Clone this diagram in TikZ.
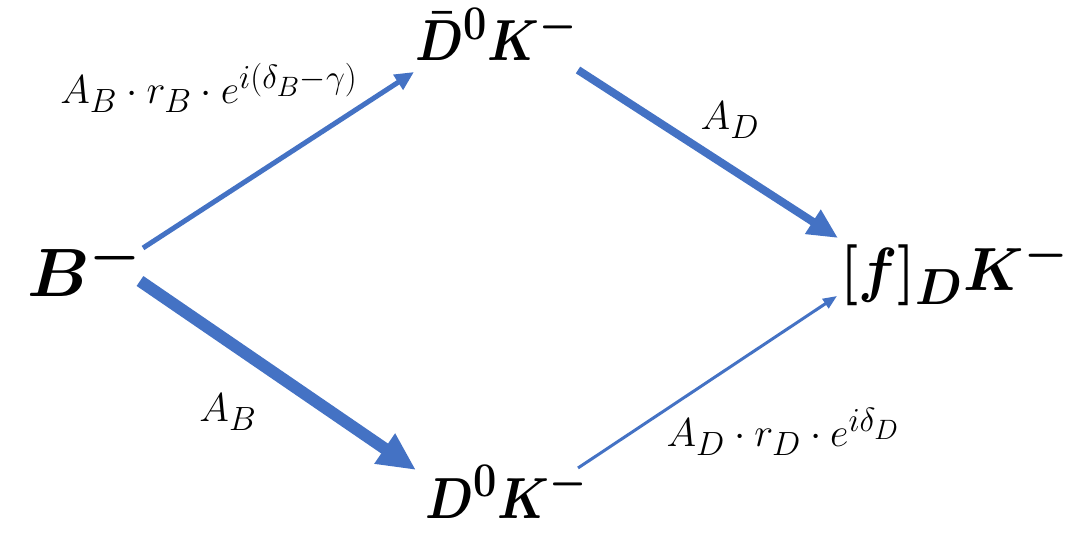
\documentclass[tikz,border=0pt]{standalone}
\usepackage{graphicx}
\usepackage{amsmath}
\usepackage{bm}
\usetikzlibrary{arrows.meta}
\definecolor{officeblue}{HTML}{4472C4}
\newcommand{\BigTxt}[3]{\scalebox{#1}[#2]{\Huge$#3$}}
\newcommand{\LblTxt}[1]{\scalebox{1.62}{\Huge$#1$}}
\begin{document}
\begin{tikzpicture}[x=1pt,y=-1pt,
  big/.style={inner sep=0pt,anchor=base west},
  lbl/.style={inner sep=0pt},
  conn/.style={draw=officeblue,line cap=butt},
  thinA/.style={conn,line width=5pt,-{Triangle[length=19pt,width=17pt]}},
  medA/.style={conn,line width=8pt,-{Triangle[length=30pt,width=27pt]}},
  thickA/.style={conn,line width=12pt,-{Triangle[length=38pt,width=34pt]}},
  hairA/.style={conn,line width=3pt,-{Triangle[length=14pt,width=11pt]}}]
\useasboundingbox (0,0) rectangle (1079,534);
\node[big] (B) at (27,297) {\BigTxt{2.75}{2.75}{\bm{B}^{\bm{-}}}};
\node[big] (Db) at (415,61) {\BigTxt{2.0}{2.33}{\bm{\bar{D}}^{\bm{0}}\bm{K}^{\bm{-}}}};
\node[big] (D) at (425,518) {\BigTxt{2.0}{2.33}{\bm{D}^{\bm{0}}\bm{K}^{\bm{-}}}};
\node[big] (F) at (840,291) {\BigTxt{2.33}{2.45}{\bm{[f]_{D}K^{-}}}};
\draw[thinA] ([shift={(116,-49)}]B.base west) -- ([shift={(-1,11)}]Db.base west);
\draw[medA] ([shift={(163,9)}]Db.base west) -- ([shift={(-2,-53)}]F.base west);
\draw[thickA] ([shift={(113,-16)}]B.base west) -- ([shift={(-9,-48)}]D.base west);
\draw[hairA] ([shift={(153,-50)}]D.base west) -- ([shift={(-3,5)}]F.base west);
\node[lbl] (l1) at (209,88) {\LblTxt{A_B\cdot r_B\cdot e^{i(\delta_B-\gamma)}}};
\node[lbl] (l2) at (730,120) {\LblTxt{A_D}};
\node[lbl] (l3) at (228,412) {\LblTxt{A_B}};
\node[lbl] (l4) at (783,432) {\LblTxt{A_D\cdot r_D\cdot e^{i\delta_D}}};
\end{tikzpicture}
\end{document}
